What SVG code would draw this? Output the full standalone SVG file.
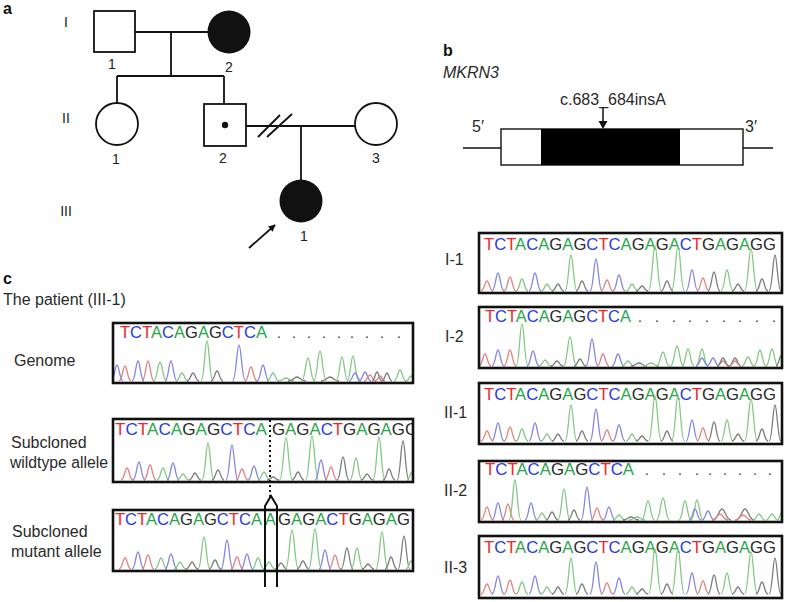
<svg xmlns="http://www.w3.org/2000/svg" xmlns:xlink="http://www.w3.org/1999/xlink" width="787" height="602" viewBox="0 0 787 602">
<style>
text{font-family:"Liberation Sans",Arial,sans-serif}
.lab{font-size:16px;fill:#2a2a2a}
.num{font-size:14px;fill:#222}
.hd{font-size:16px;font-weight:bold;fill:#111}
.pl{stroke:#111;stroke-width:1.8;fill:none}
.bx{fill:none;stroke:#111;stroke-width:2.6}
.seq{font-size:16px}
.T{fill:#f0262a}.C{fill:#2b3be0}.A{fill:#2aa64a}.G{fill:#2a2a2a}
.dots{font-size:14px;fill:#333}
use.r{stroke:#e58080}use.b{stroke:#8585e2}use.a{stroke:#84c884}use.g{stroke:#7c7c7c}
</style>
<defs>
<path id="pk" d="M-1 0C-0.45 0 -0.35 -1 0 -1C0.35 -1 0.45 0 1 0" fill="none" stroke-width="1.3" vector-effect="non-scaling-stroke"/>
<marker id="ah" viewBox="0 0 10 10" refX="9" refY="5" markerWidth="7" markerHeight="7" orient="auto" markerUnits="userSpaceOnUse"><path d="M0 0L10 5L0 10z" fill="#111"/></marker>
<g id="full">
<text class="seq" x="5" y="17" textLength="292" lengthAdjust="spacingAndGlyphs"><tspan class="T">T</tspan><tspan class="C">C</tspan><tspan class="T">T</tspan><tspan class="A">A</tspan><tspan class="C">C</tspan><tspan class="A">A</tspan><tspan class="G">G</tspan><tspan class="A">A</tspan><tspan class="G">G</tspan><tspan class="C">C</tspan><tspan class="T">T</tspan><tspan class="C">C</tspan><tspan class="A">A</tspan><tspan class="G">G</tspan><tspan class="A">A</tspan><tspan class="G">G</tspan><tspan class="A">A</tspan><tspan class="C">C</tspan><tspan class="T">T</tspan><tspan class="G">G</tspan><tspan class="A">A</tspan><tspan class="G">G</tspan><tspan class="A">A</tspan><tspan class="G">G</tspan><tspan class="G">G</tspan></text>
<use href="#pk" class="r" transform="translate(8 58) scale(6 10)"/>
<use href="#pk" class="b" transform="translate(19 58) scale(6 18)"/>
<use href="#pk" class="r" transform="translate(31 58) scale(6 14)"/>
<use href="#pk" class="a" transform="translate(43 58) scale(6 12)"/>
<use href="#pk" class="b" transform="translate(56 58) scale(6 18)"/>
<use href="#pk" class="a" transform="translate(68 58) scale(6 7)"/>
<use href="#pk" class="g" transform="translate(79 58) scale(6 7)"/>
<use href="#pk" class="a" transform="translate(92 58) scale(6 36)"/>
<use href="#pk" class="g" transform="translate(103 58) scale(6 10)"/>
<use href="#pk" class="b" transform="translate(117 58) scale(6 32)"/>
<use href="#pk" class="r" transform="translate(128 58) scale(6 11)"/>
<use href="#pk" class="b" transform="translate(140 58) scale(6 16)"/>
<use href="#pk" class="a" transform="translate(153 58) scale(6 7)"/>
<use href="#pk" class="g" transform="translate(163 58) scale(6 5)"/>
<use href="#pk" class="a" transform="translate(176 58) scale(6.5 45)"/>
<use href="#pk" class="g" transform="translate(188 58) scale(6 10)"/>
<use href="#pk" class="a" transform="translate(199 58) scale(6.5 45)"/>
<use href="#pk" class="b" transform="translate(213 58) scale(6 21)"/>
<use href="#pk" class="r" transform="translate(224 58) scale(6 13)"/>
<use href="#pk" class="g" transform="translate(235 58) scale(6 19)"/>
<use href="#pk" class="a" transform="translate(248 58) scale(6 21)"/>
<use href="#pk" class="g" transform="translate(259 58) scale(6 7)"/>
<use href="#pk" class="a" transform="translate(272 58) scale(6.5 42)"/>
<use href="#pk" class="g" transform="translate(283 58) scale(6 12)"/>
<use href="#pk" class="g" transform="translate(296 58) scale(6 36)"/>
</g>
</defs>

<!-- panel labels -->
<text class="hd" x="3" y="14">a</text>
<text class="hd" x="443" y="56">b</text>
<text class="hd" x="3" y="284">c</text>

<!-- pedigree generation labels -->
<text class="num" x="66" y="27" text-anchor="middle">I</text>
<text class="num" x="66" y="123" text-anchor="middle">II</text>
<text class="num" x="66" y="216" text-anchor="middle">III</text>

<g id="connectors">
<path class="pl" d="M135 32H208"/>
<path class="pl" d="M171 32V76M117 76H224M117 76V103M224 76V103"/>
<path class="pl" d="M246 126H355"/>
<path class="pl" d="M258 137L280 115M267 137L292 114"/>
<path class="pl" d="M301 126V180"/>
<path class="pl" d="M249 248L275 225" marker-end="url(#ah)"/>
</g>

<g id="I-1-node"><rect class="pl" x="94" y="11" width="41" height="41"/><text class="num" x="112" y="69" text-anchor="middle">1</text></g>
<g id="I-2-node"><circle cx="229" cy="32" r="21.5" fill="#111"/><text class="num" x="229" y="72" text-anchor="middle">2</text></g>
<g id="II-1-node"><circle class="pl" cx="117" cy="124" r="21"/><text class="num" x="116" y="164" text-anchor="middle">1</text></g>
<g id="II-2-node"><rect class="pl" x="204" y="104" width="42" height="42"/><circle cx="225" cy="125" r="3.2" fill="#111"/><text class="num" x="223" y="163" text-anchor="middle">2</text></g>
<g id="II-3-node"><circle class="pl" cx="376" cy="124" r="21"/><text class="num" x="376" y="163" text-anchor="middle">3</text></g>
<g id="III-1-node"><circle cx="301" cy="201" r="21.5" fill="#111"/><text class="num" x="304" y="241" text-anchor="middle">1</text></g>

<!-- panel b gene -->
<g id="gene">
<text class="lab" x="443" y="78" font-style="italic">MKRN3</text>
<text class="lab" x="560" y="105">c.683_684insA</text>
<path d="M603 108V122" stroke="#111" stroke-width="1.5"/>
<path d="M598.5 121L607.5 121L603 129z" fill="#111"/>
<text class="lab" x="472" y="132">5′</text>
<text class="lab" x="745" y="132">3′</text>
<path d="M463 148H501M743 148H773" stroke="#111" stroke-width="1.4"/>
<rect x="501" y="129" width="242" height="36" fill="#fff" stroke="#111" stroke-width="1.4"/>
<rect x="541" y="129" width="139" height="36" fill="#000"/>
</g>

<!-- panel c -->
<text class="lab" x="3" y="305">The patient (III-1)</text>
<text class="lab" x="14" y="366">Genome</text>
<text class="lab" x="11" y="448">Subcloned</text>
<text class="lab" x="10" y="468" textLength="98" lengthAdjust="spacingAndGlyphs">wildtype allele</text>
<text class="lab" x="12" y="537">Subcloned</text>
<text class="lab" x="11" y="557">mutant allele</text>

<g id="genome">
<svg x="113" y="323" width="300" height="60" viewBox="113 323 300 60">
<text class="seq" x="120" y="338" textLength="147" lengthAdjust="spacingAndGlyphs"><tspan class="T">T</tspan><tspan class="C">C</tspan><tspan class="T">T</tspan><tspan class="A">A</tspan><tspan class="C">C</tspan><tspan class="A">A</tspan><tspan class="G">G</tspan><tspan class="A">A</tspan><tspan class="G">G</tspan><tspan class="C">C</tspan><tspan class="T">T</tspan><tspan class="C">C</tspan><tspan class="A">A</tspan></text>
<text class="dots" x="277 292 307 322 337 350 365 380 397" y="338">.........</text>
<use href="#pk" class="b" transform="translate(117 381) scale(6 16)"/>
<use href="#pk" class="r" transform="translate(125 381) scale(6 15)"/>
<use href="#pk" class="b" transform="translate(138 381) scale(6 20)"/>
<use href="#pk" class="r" transform="translate(148 381) scale(6 20)"/>
<use href="#pk" class="a" transform="translate(160 381) scale(6.5 19)"/>
<use href="#pk" class="b" transform="translate(171 381) scale(6 20)"/>
<use href="#pk" class="a" transform="translate(182 381) scale(6 8)"/>
<use href="#pk" class="g" transform="translate(193 381) scale(6 8)"/>
<use href="#pk" class="a" transform="translate(207 381) scale(6 40)"/>
<use href="#pk" class="g" transform="translate(217 381) scale(6 10)"/>
<use href="#pk" class="b" transform="translate(239 381) scale(6.5 36)"/>
<use href="#pk" class="r" transform="translate(251 381) scale(6 14)"/>
<use href="#pk" class="b" transform="translate(263 381) scale(6 16)"/>
<use href="#pk" class="a" transform="translate(273 381) scale(6 8)"/>
<use href="#pk" class="a" transform="translate(286 381) scale(8 3)"/>
<use href="#pk" class="g" transform="translate(297 381) scale(9 4)"/>
<use href="#pk" class="a" transform="translate(308 381) scale(6.5 23)"/>
<use href="#pk" class="a" transform="translate(320 381) scale(6.5 30)"/>
<use href="#pk" class="g" transform="translate(330 381) scale(9 4)"/>
<use href="#pk" class="a" transform="translate(342 381) scale(6 24)"/>
<use href="#pk" class="a" transform="translate(353 381) scale(6 25)"/>
<use href="#pk" class="b" transform="translate(355 381) scale(6 8)"/>
<use href="#pk" class="b" transform="translate(365 381) scale(6 9)"/>
<use href="#pk" class="r" transform="translate(370 381) scale(6 6)"/>
<use href="#pk" class="g" transform="translate(377 381) scale(5 9)"/>
<use href="#pk" class="r" transform="translate(380 381) scale(5 5)"/>
<use href="#pk" class="g" transform="translate(387 381) scale(5 8)"/>
<use href="#pk" class="a" transform="translate(400 381) scale(6 11)"/>
<use href="#pk" class="a" transform="translate(411 381) scale(5 5)"/>
</svg>
<rect class="bx" x="113" y="323" width="300" height="60"/>
</g>

<g id="wildtype">
<svg x="113" y="419" width="300" height="63" viewBox="113 419 300 63">
<text class="seq" x="115" y="435" textLength="152" lengthAdjust="spacingAndGlyphs"><tspan class="T">T</tspan><tspan class="C">C</tspan><tspan class="T">T</tspan><tspan class="A">A</tspan><tspan class="C">C</tspan><tspan class="A">A</tspan><tspan class="G">G</tspan><tspan class="A">A</tspan><tspan class="G">G</tspan><tspan class="C">C</tspan><tspan class="T">T</tspan><tspan class="C">C</tspan><tspan class="A">A</tspan></text>
<text class="seq" x="272" y="435" textLength="146" lengthAdjust="spacingAndGlyphs"><tspan class="G">G</tspan><tspan class="A">A</tspan><tspan class="G">G</tspan><tspan class="A">A</tspan><tspan class="C">C</tspan><tspan class="T">T</tspan><tspan class="G">G</tspan><tspan class="A">A</tspan><tspan class="G">G</tspan><tspan class="A">A</tspan><tspan class="G">G</tspan><tspan class="G">G</tspan></text>
<use href="#pk" class="r" transform="translate(127 480) scale(6 12)"/>
<use href="#pk" class="b" transform="translate(139 480) scale(6 18)"/>
<use href="#pk" class="r" transform="translate(150 480) scale(6 15)"/>
<use href="#pk" class="a" transform="translate(163 480) scale(6 12)"/>
<use href="#pk" class="b" transform="translate(173 480) scale(6 17)"/>
<use href="#pk" class="a" transform="translate(183 480) scale(6 6)"/>
<use href="#pk" class="g" transform="translate(195 480) scale(6 7)"/>
<use href="#pk" class="a" transform="translate(208 480) scale(6 37)"/>
<use href="#pk" class="g" transform="translate(218 480) scale(6 10)"/>
<use href="#pk" class="b" transform="translate(232 480) scale(6 35)"/>
<use href="#pk" class="r" transform="translate(242 480) scale(6 11)"/>
<use href="#pk" class="b" transform="translate(254 480) scale(6 14)"/>
<use href="#pk" class="a" transform="translate(264 480) scale(6 8)"/>
<use href="#pk" class="g" transform="translate(273 480) scale(6 3)"/>
<use href="#pk" class="a" transform="translate(286 480) scale(6.5 42)"/>
<use href="#pk" class="g" transform="translate(298 480) scale(6 8)"/>
<use href="#pk" class="a" transform="translate(312 480) scale(6.5 44)"/>
<use href="#pk" class="b" transform="translate(321 480) scale(6 20)"/>
<use href="#pk" class="r" transform="translate(331 480) scale(6 13)"/>
<use href="#pk" class="g" transform="translate(343 480) scale(6 23)"/>
<use href="#pk" class="a" transform="translate(356 480) scale(6 22)"/>
<use href="#pk" class="g" transform="translate(367 480) scale(6 6)"/>
<use href="#pk" class="a" transform="translate(379 480) scale(6 43)"/>
<use href="#pk" class="g" transform="translate(389 480) scale(6 11)"/>
<use href="#pk" class="g" transform="translate(403 480) scale(6 39)"/>
<use href="#pk" class="a" transform="translate(412 480) scale(5 8)"/>
</svg>
<rect class="bx" x="113" y="419" width="300" height="63"/>
</g>

<g id="mutant">
<svg x="113" y="510" width="300" height="61" viewBox="113 510 300 61">
<text class="seq" x="115" y="525" textLength="147" lengthAdjust="spacingAndGlyphs"><tspan class="T">T</tspan><tspan class="C">C</tspan><tspan class="T">T</tspan><tspan class="A">A</tspan><tspan class="C">C</tspan><tspan class="A">A</tspan><tspan class="G">G</tspan><tspan class="A">A</tspan><tspan class="G">G</tspan><tspan class="C">C</tspan><tspan class="T">T</tspan><tspan class="C">C</tspan><tspan class="A">A</tspan></text>
<text class="seq A" x="265" y="525">A</text>
<text class="seq" x="278" y="525" textLength="132" lengthAdjust="spacingAndGlyphs"><tspan class="G">G</tspan><tspan class="A">A</tspan><tspan class="G">G</tspan><tspan class="A">A</tspan><tspan class="C">C</tspan><tspan class="T">T</tspan><tspan class="G">G</tspan><tspan class="A">A</tspan><tspan class="G">G</tspan><tspan class="A">A</tspan><tspan class="G">G</tspan></text>
<use href="#pk" class="r" transform="translate(125 569) scale(6 11)"/>
<use href="#pk" class="b" transform="translate(138 569) scale(6 17)"/>
<use href="#pk" class="r" transform="translate(148 569) scale(6 14)"/>
<use href="#pk" class="a" transform="translate(161 569) scale(6 11)"/>
<use href="#pk" class="b" transform="translate(171 569) scale(6 15)"/>
<use href="#pk" class="a" transform="translate(180 569) scale(6 7)"/>
<use href="#pk" class="g" transform="translate(192 569) scale(6 7)"/>
<use href="#pk" class="a" transform="translate(204 569) scale(6 32)"/>
<use href="#pk" class="g" transform="translate(215 569) scale(6 9)"/>
<use href="#pk" class="b" transform="translate(227 569) scale(6 29)"/>
<use href="#pk" class="r" transform="translate(237 569) scale(6 12)"/>
<use href="#pk" class="b" transform="translate(247 569) scale(6 15)"/>
<use href="#pk" class="a" transform="translate(258 569) scale(6 11)"/>
<use href="#pk" class="a" transform="translate(269 569) scale(6 7)"/>
<use href="#pk" class="g" transform="translate(281 569) scale(6 6)"/>
<use href="#pk" class="a" transform="translate(292 569) scale(6.5 39)"/>
<use href="#pk" class="g" transform="translate(303 569) scale(6 8)"/>
<use href="#pk" class="a" transform="translate(315 569) scale(6.5 40)"/>
<use href="#pk" class="b" transform="translate(325 569) scale(6 19)"/>
<use href="#pk" class="r" transform="translate(335 569) scale(6 14)"/>
<use href="#pk" class="g" transform="translate(347 569) scale(6 21)"/>
<use href="#pk" class="a" transform="translate(357 569) scale(6 21)"/>
<use href="#pk" class="g" transform="translate(368 569) scale(6 5)"/>
<use href="#pk" class="a" transform="translate(382 569) scale(6 37)"/>
<use href="#pk" class="g" transform="translate(391 569) scale(6 12)"/>
<use href="#pk" class="g" transform="translate(404 569) scale(6 33)"/>
<use href="#pk" class="a" transform="translate(411 569) scale(5 8)"/>
</svg>
<rect class="bx" x="113" y="510" width="300" height="61"/>
</g>

<g id="insertion-marks">
<path d="M270 420V497" stroke="#111" stroke-width="2" stroke-dasharray="2 3"/>
<path d="M265 587V506L271 496L277 506V587" fill="none" stroke="#111" stroke-width="2"/>
</g>

<!-- right chromatograms -->
<text class="lab" x="445" y="265">I-1</text>
<text class="lab" x="445" y="342">I-2</text>
<text class="lab" x="444" y="418">II-1</text>
<text class="lab" x="444" y="496">II-2</text>
<text class="lab" x="444" y="573">II-3</text>

<g id="I-1-trace">
<svg x="479" y="233" width="303" height="60"><use href="#full"/></svg>
<rect class="bx" x="479" y="233" width="303" height="60"/>
</g>

<g id="I-2-trace">
<svg x="479" y="307" width="303" height="61">
<text class="seq" x="6" y="15" textLength="146" lengthAdjust="spacingAndGlyphs"><tspan class="T">T</tspan><tspan class="C">C</tspan><tspan class="T">T</tspan><tspan class="A">A</tspan><tspan class="C">C</tspan><tspan class="A">A</tspan><tspan class="G">G</tspan><tspan class="A">A</tspan><tspan class="G">G</tspan><tspan class="C">C</tspan><tspan class="T">T</tspan><tspan class="C">C</tspan><tspan class="A">A</tspan></text>
<text class="dots" x="159 176 193 209 226 243 259 276 293" y="15">.........</text>
<use href="#pk" class="r" transform="translate(6 59) scale(6 12)"/>
<use href="#pk" class="b" transform="translate(19 59) scale(6 16)"/>
<use href="#pk" class="r" transform="translate(31 59) scale(6 16)"/>
<use href="#pk" class="a" transform="translate(43 59) scale(6 42)"/>
<use href="#pk" class="b" transform="translate(54 59) scale(6 15)"/>
<use href="#pk" class="a" transform="translate(66 59) scale(6 6)"/>
<use href="#pk" class="g" transform="translate(78 59) scale(6 5)"/>
<use href="#pk" class="a" transform="translate(91 59) scale(6.5 29)"/>
<use href="#pk" class="g" transform="translate(101 59) scale(6 7)"/>
<use href="#pk" class="b" transform="translate(113 59) scale(6 27)"/>
<use href="#pk" class="r" transform="translate(124 59) scale(6 12)"/>
<use href="#pk" class="b" transform="translate(139 59) scale(6 12)"/>
<use href="#pk" class="a" transform="translate(149 59) scale(6 5)"/>
<use href="#pk" class="g" transform="translate(160 59) scale(8 3)"/>
<use href="#pk" class="a" transform="translate(172 59) scale(8 3)"/>
<use href="#pk" class="a" transform="translate(184 59) scale(6.5 14)"/>
<use href="#pk" class="a" transform="translate(198 59) scale(6.5 20)"/>
<use href="#pk" class="a" transform="translate(209 59) scale(6 17)"/>
<use href="#pk" class="a" transform="translate(223 59) scale(6 17)"/>
<use href="#pk" class="b" transform="translate(223 59) scale(6 8)"/>
<use href="#pk" class="b" transform="translate(234 59) scale(6 8)"/>
<use href="#pk" class="r" transform="translate(244 59) scale(6 5)"/>
<use href="#pk" class="g" transform="translate(244 59) scale(6 8)"/>
<use href="#pk" class="g" transform="translate(256 59) scale(6 8)"/>
<use href="#pk" class="r" transform="translate(256 59) scale(6 5)"/>
<use href="#pk" class="a" transform="translate(269 59) scale(6 9)"/>
<use href="#pk" class="a" transform="translate(281 59) scale(6 16)"/>
<use href="#pk" class="a" transform="translate(293 59) scale(6 17)"/>
<use href="#pk" class="g" transform="translate(302 59) scale(5 10)"/>
</svg>
<rect class="bx" x="479" y="307" width="303" height="61"/>
</g>

<g id="II-1-trace">
<svg x="479" y="383" width="303" height="61"><use href="#full"/></svg>
<rect class="bx" x="479" y="383" width="303" height="61"/>
</g>

<g id="II-2-trace">
<svg x="479" y="461" width="303" height="61">
<text class="seq" x="6" y="14" textLength="149" lengthAdjust="spacingAndGlyphs"><tspan class="T">T</tspan><tspan class="C">C</tspan><tspan class="T">T</tspan><tspan class="A">A</tspan><tspan class="C">C</tspan><tspan class="A">A</tspan><tspan class="G">G</tspan><tspan class="A">A</tspan><tspan class="G">G</tspan><tspan class="C">C</tspan><tspan class="T">T</tspan><tspan class="C">C</tspan><tspan class="A">A</tspan></text>
<text class="dots" x="166 183 199 216 229 244 259 274 289" y="14">.........</text>
<use href="#pk" class="r" transform="translate(8 59) scale(6 13)"/>
<use href="#pk" class="b" transform="translate(19 59) scale(6 17)"/>
<use href="#pk" class="r" transform="translate(29 59) scale(6 16)"/>
<use href="#pk" class="a" transform="translate(36 59) scale(6 40)"/>
<use href="#pk" class="b" transform="translate(52 59) scale(6 17)"/>
<use href="#pk" class="a" transform="translate(63 59) scale(6 7)"/>
<use href="#pk" class="g" transform="translate(73 59) scale(6 8)"/>
<use href="#pk" class="a" transform="translate(85 59) scale(6 31)"/>
<use href="#pk" class="g" transform="translate(95 59) scale(6 10)"/>
<use href="#pk" class="b" transform="translate(108 59) scale(6 33)"/>
<use href="#pk" class="r" transform="translate(118 59) scale(6 12)"/>
<use href="#pk" class="b" transform="translate(130 59) scale(6 13)"/>
<use href="#pk" class="a" transform="translate(140 59) scale(6 5)"/>
<use href="#pk" class="g" transform="translate(152 59) scale(8 3)"/>
<use href="#pk" class="a" transform="translate(158 59) scale(8 3)"/>
<use href="#pk" class="a" transform="translate(169 59) scale(6.5 19)"/>
<use href="#pk" class="a" transform="translate(184 59) scale(6.5 22)"/>
<use href="#pk" class="a" transform="translate(206 59) scale(6 19)"/>
<use href="#pk" class="a" transform="translate(218 59) scale(6 20)"/>
<use href="#pk" class="b" transform="translate(216 59) scale(6 11)"/>
<use href="#pk" class="b" transform="translate(229 59) scale(6 9)"/>
<use href="#pk" class="g" transform="translate(243 59) scale(9 11)"/>
<use href="#pk" class="r" transform="translate(241 59) scale(8 6)"/>
<use href="#pk" class="g" transform="translate(266 59) scale(9 11)"/>
<use href="#pk" class="r" transform="translate(264 59) scale(8 5)"/>
<use href="#pk" class="a" transform="translate(280 59) scale(6 6)"/>
<use href="#pk" class="a" transform="translate(293 59) scale(6 6)"/>
<use href="#pk" class="a" transform="translate(303 59) scale(5 8)"/>
</svg>
<rect class="bx" x="479" y="461" width="303" height="61"/>
</g>

<g id="II-3-trace">
<svg x="479" y="536" width="303" height="62"><use href="#full"/></svg>
<rect class="bx" x="479" y="536" width="303" height="62"/>
</g>
</svg>
